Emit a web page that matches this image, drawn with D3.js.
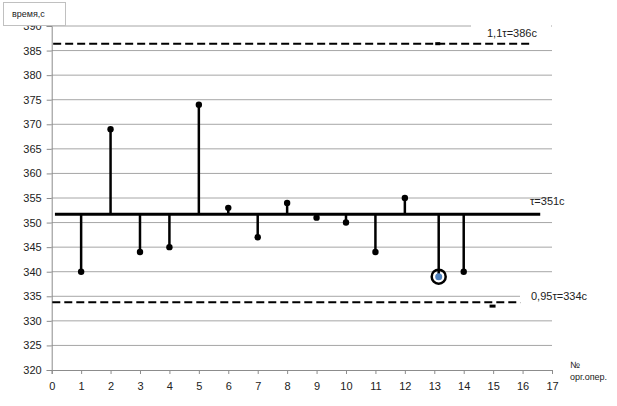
<!DOCTYPE html>
<html><head><meta charset="utf-8">
<script src="https://cdn.jsdelivr.net/npm/d3@7"></script>
<style>body{margin:0;background:#fff;} svg{display:block;}</style>
</head><body>
<svg id="c" width="617" height="406"></svg>
<script>
const ops   = [1, 2, 3, 4, 5, 6, 7, 8, 9, 10, 11, 12, 13.15, 14];
const times = [340, 369, 344, 345, 374, 353, 347, 354, 351, 350, 344, 355, 339, 340];
const highlighted = [13.15];
const meanLevel = 351.7, meanLabel = "τ=351с";
const upperLevel = 386.4, upperLabel = "1,1τ=386с";
const lowerLevel = 333.8, lowerLabel = "0,95τ=334с";
const yTicks = d3.range(320, 391, 5);
const xTicks = d3.range(0, 18, 1);

const svg = d3.select("#c");
const x = d3.scaleLinear().domain([0, 17]).range([51.7, 552]);
const y = d3.scaleLinear().domain([320, 390]).range([370, 26]);
const font = "'Liberation Sans', Arial, sans-serif";

// gridlines
svg.append("g").selectAll("line").data(yTicks.filter(v => v > 320)).join("line")
  .attr("x1", x(0)).attr("x2", x(17)).attr("y1", d => y(d)).attr("y2", d => y(d))
  .attr("stroke", "#a6a6a6").attr("stroke-width", 1);

// axes
const yAxis = d3.axisLeft(y).tickValues(yTicks).tickSize(5).tickPadding(5);
const gy = svg.append("g").attr("transform", `translate(${x(0)},0)`).call(yAxis);
const xAxis = d3.axisBottom(x).tickValues(xTicks).tickSize(4).tickPadding(8);
const gx = svg.append("g").attr("transform", `translate(0,${y(320)})`).call(xAxis);
[gx, gy].forEach(g => {
  g.select(".domain").attr("stroke", "#8c8c8c");
  g.selectAll(".tick line").attr("stroke", "#8c8c8c");
  g.selectAll(".tick text").attr("fill", "#222").style("font-family", font).style("font-size", "11px");
});

// dashed limit lines
svg.append("line").attr("x1", x(0.05)).attr("x2", x(16.35))
  .attr("y1", y(upperLevel)).attr("y2", y(upperLevel))
  .attr("stroke", "#000").attr("stroke-width", 2).attr("stroke-dasharray", "8,4");
svg.append("line").attr("x1", x(0.02)).attr("x2", x(15.93))
  .attr("y1", y(lowerLevel)).attr("y2", y(lowerLevel))
  .attr("stroke", "#000").attr("stroke-width", 2).attr("stroke-dasharray", "8,4");

// small artifacts
svg.append("rect").attr("x", x(14.98) - 3).attr("y", y(333) - 1.5).attr("width", 6).attr("height", 3).attr("fill", "#000");
svg.append("rect").attr("x", x(13.1) - 2).attr("y", y(upperLevel) - 1.5).attr("width", 5).attr("height", 3).attr("fill", "#000");

// mean line
svg.append("line").attr("x1", x(0.11)).attr("x2", x(16.6))
  .attr("y1", y(meanLevel)).attr("y2", y(meanLevel))
  .attr("stroke", "#000").attr("stroke-width", 3);

// stems
svg.append("g").selectAll("line").data(ops).join("line")
  .attr("x1", d => x(d)).attr("x2", d => x(d))
  .attr("y1", y(meanLevel)).attr("y2", (d, i) => y(times[i]))
  .attr("stroke", "#000").attr("stroke-width", 2.5);

// points
svg.append("g").selectAll("circle").data(ops).join("circle")
  .attr("cx", d => x(d)).attr("cy", (d, i) => y(times[i]))
  .attr("r", d => highlighted.includes(d) ? 3.5 : 3.2)
  .attr("fill", d => highlighted.includes(d) ? "#4f81bd" : "#000");

// highlight circle
highlighted.forEach(h => {
  const i = ops.indexOf(h);
  svg.append("circle").attr("cx", x(h)).attr("cy", y(times[i]))
    .attr("r", 7).attr("fill", "none").attr("stroke", "#000").attr("stroke-width", 2.5);
});

// labels with white background
function label(txt, lx, ly, size) {
  return svg.append("text").attr("x", lx).attr("y", ly).text(txt)
    .style("font-family", font).style("font-size", size + "px").attr("fill", "#222")
    .attr("dominant-baseline", "middle");
}
svg.append("rect").attr("x", 471).attr("y", 20).attr("width", 80).attr("height", 20).attr("fill", "#fff");
label(upperLabel, 487, 34, 11);
label(meanLabel, 530, 202, 11);
svg.append("rect").attr("x", 520).attr("y", 288).attr("width", 80).attr("height", 14).attr("fill", "#fff");
label(lowerLabel, 531, 297, 11);
label("№", 570, 366, 9);
label("орг.опер.", 570, 378, 9);

// y title box
svg.append("rect").attr("x", 3.5).attr("y", 2.5).attr("width", 62).attr("height", 23)
  .attr("fill", "#fff").attr("stroke", "#c0c0c0").attr("stroke-width", 1);
label("время,с", 12, 15, 9);
</script>
</body></html>
